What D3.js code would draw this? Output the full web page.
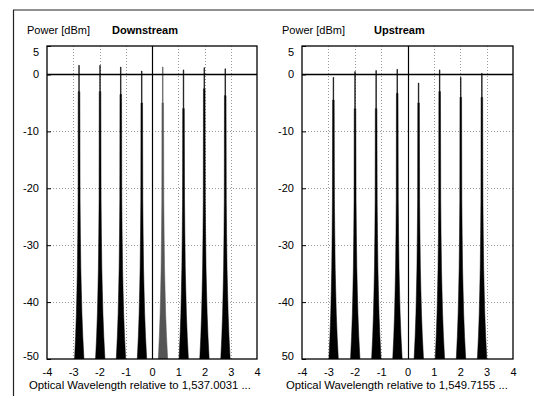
<!DOCTYPE html>
<html><head><meta charset="utf-8">
<script src="https://cdn.jsdelivr.net/npm/d3@7"></script>
<style>body{margin:0;background:#fff}svg{display:block;font-family:"Liberation Sans",Arial,sans-serif}</style>
</head><body><svg id="c" width="534" height="405"></svg>
<script>
// ---- data ----
const xTicks = [-4, -3, -2, -1, 0, 1, 2, 3, 4];
const yTicks = [5, 0, -10, -20, -30, -40, -50];
const yTickLabelsDown = ["5", "0", "-10", "-20", "-30", "-40", "-50"];
const yTickLabelsUp = ["5", "0", "-10", "-20", "-30", "-40", "50"];
const titles = ["Downstream", "Upstream"];
const yTitle = "Power [dBm]";
const xTitles = ["Optical Wavelength relative to 1,537.0031 ...", "Optical Wavelength relative to 1,549.7155 ..."];

// channel centres (nm offset), peak power (dBm), level where the line broadens (dBm)
const downCenters = [-2.78, -1.98, -1.19, -0.39, 0.41, 1.20, 1.99, 2.79];
const downPeaks   = [1.6, 1.6, 1.3, 0.6, 1.3, 0.8, 1.2, 1.0];
const downKnees   = [-3, -3, -3.5, -5, -5, -6, -2.5, -3.7];
const upCenters = [-2.81, -1.99, -1.19, -0.39, 0.42, 1.22, 2.02, 2.82];
const upPeaks   = [-0.5, 0.5, 0.7, 0.9, -1.5, 0.8, -0.5, 0.2];
const upKnees   = [-4.5, -6, -6, -3.3, -5, -3, -4, -4];

// shared spectral skirt read from the peaks (level dBm -> half width nm)
const profileLevels     = [-50, -46, -42, -38, -34, -28, -22];
const profileHalfWidths = [0.17, 0.13, 0.1, 0.08, 0.062, 0.047, 0.036];
const bodyHalfWidth = 0.03;
const spikeHalfWidth = 0.012;

// ---- drawing ----
const svg = d3.select("#c");
const plotTop = 46, plotBottom = 359;
const panels = [
  {x0: 47, x1: 257, centers: downCenters, peaks: downPeaks, knees: downKnees, yLabels: yTickLabelsDown,
   title: titles[0], titleX: 112, powerX: 27, xTitle: xTitles[0], xTitleX: 29, grayIdx: [4]},
  {x0: 302, x1: 513, centers: upCenters, peaks: upPeaks, knees: upKnees, yLabels: yTickLabelsUp,
   title: titles[1], titleX: 374, powerX: 282, xTitle: xTitles[1], xTitleX: 286, grayIdx: []}
];

// outer border (partial as in scan)
svg.append("line").attr("x1", 13.5).attr("x2", 13.5).attr("y1", 10).attr("y2", 396).attr("stroke", "#222").attr("stroke-width", 1.2);
svg.append("line").attr("x1", 13).attr("x2", 534).attr("y1", 10).attr("y2", 10).attr("stroke", "#222").attr("stroke-width", 1.2);

panels.forEach((p, pi) => {
  const x = d3.scaleLinear().domain([-4, 4]).range([p.x0, p.x1]);
  const y = d3.scaleLinear().domain([-50, 5]).range([plotBottom, plotTop]);
  const g = svg.append("g");
  const clipId = "clip" + pi;
  g.append("clipPath").attr("id", clipId).append("rect")
    .attr("x", p.x0).attr("y", plotTop).attr("width", p.x1 - p.x0).attr("height", plotBottom - plotTop);

  // dotted grid
  const grid = g.append("g").attr("stroke", "#999").attr("stroke-width", 1).attr("stroke-dasharray", "1,2");
  xTicks.filter(t => t !== 0 && Math.abs(t) !== 4).forEach(t => {
    grid.append("line").attr("x1", Math.round(x(t)) + 0.5).attr("x2", Math.round(x(t)) + 0.5).attr("y1", plotTop).attr("y2", plotBottom);
  });
  yTicks.filter(t => t < 0 && t > -50).forEach(t => {
    grid.append("line").attr("y1", Math.round(y(t)) + 0.5).attr("y2", Math.round(y(t)) + 0.5).attr("x1", p.x0).attr("x2", p.x1);
  });

  // spectra
  const line = d3.line().x(d => x(d[0])).y(d => y(d[1]));
  const spec = g.append("g").attr("clip-path", `url(#${clipId})`);
  p.centers.forEach((c, i) => {
    const pts = [];
    for (let k = 0; k < profileLevels.length; k++) pts.push([c - profileHalfWidths[k], profileLevels[k]]);
    pts.push([c - bodyHalfWidth, p.knees[i]]);
    pts.push([c - spikeHalfWidth, p.knees[i]]);
    pts.push([c - spikeHalfWidth, p.peaks[i]]);
    pts.push([c + spikeHalfWidth, p.peaks[i]]);
    pts.push([c + spikeHalfWidth, p.knees[i]]);
    pts.push([c + bodyHalfWidth, p.knees[i]]);
    for (let k = profileLevels.length - 1; k >= 0; k--) pts.push([c + profileHalfWidths[k] * 1.1, profileLevels[k]]);
    const col = p.grayIdx.includes(i) ? "#555" : "#000";
    spec.append("path").attr("d", line(pts) + "Z").attr("fill", col).attr("stroke", col).attr("stroke-width", 0.5);
  });

  // solid zero lines
  g.append("line").attr("x1", Math.round(x(0)) + 0.5).attr("x2", Math.round(x(0)) + 0.5).attr("y1", plotTop).attr("y2", plotBottom)
    .attr("stroke", "#000").attr("stroke-width", 1.2);
  g.append("line").attr("x1", p.x0).attr("x2", p.x1).attr("y1", y(0)).attr("y2", y(0))
    .attr("stroke", "#000").attr("stroke-width", 1.5);

  // frame
  g.append("rect").attr("x", p.x0).attr("y", plotTop).attr("width", p.x1 - p.x0).attr("height", plotBottom - plotTop)
    .attr("fill", "none").attr("stroke", "#000").attr("stroke-width", 1.3);

  // y axis
  const yAxis = d3.axisLeft(y).tickValues(yTicks).tickSize(-4).tickPadding(8)
    .tickFormat((d, i) => p.yLabels[i]);
  const ya = g.append("g").attr("transform", `translate(${p.x0},0)`).call(yAxis);
  ya.select(".domain").remove();
  ya.selectAll("line").attr("stroke", "#000");
  ya.selectAll("text").attr("font-size", 11).attr("fill", "#000")
    .attr("dy", d => d === 5 ? "0.85em" : d === -50 ? "0.05em" : "0.32em");

  // x axis
  const xAxis = d3.axisBottom(x).tickValues(xTicks).tickSize(0).tickPadding(9).tickFormat(d3.format("d"));
  const xa = g.append("g").attr("transform", `translate(0,${plotBottom})`).call(xAxis);
  xa.select(".domain").remove();
  xa.selectAll("text").attr("font-size", 11).attr("fill", "#000").text(d => d < 0 ? "-" + Math.abs(d) : d);

  // titles
  g.append("text").attr("x", p.powerX).attr("y", 34).attr("font-size", 11).text(yTitle);
  g.append("text").attr("x", p.titleX).attr("y", 34).attr("font-size", 11).attr("font-weight", "bold").text(p.title);
  g.append("text").attr("x", p.xTitleX).attr("y", 389).attr("font-size", 11.3).text(p.xTitle);
});
</script></body></html>
